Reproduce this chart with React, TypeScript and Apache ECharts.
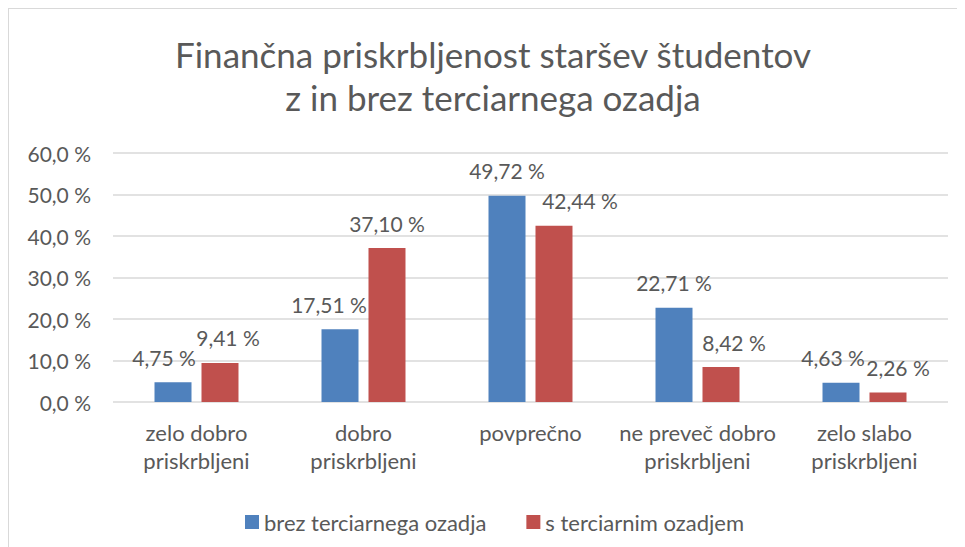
import React, { useEffect, useRef } from "react";
import * as echarts from "echarts";

const categories = [
  "zelo dobro\npriskrbljeni",
  "dobro\npriskrbljeni",
  "povprečno",
  "ne preveč dobro\npriskrbljeni",
  "zelo slabo\npriskrbljeni",
];
const seriesNames = ["brez terciarnega ozadja", "s terciarnim ozadjem"];
const brezValues = [4.75, 17.51, 49.72, 22.71, 4.63];
const sValues = [9.41, 37.1, 42.44, 8.42, 2.26];
const yTicks = [0, 10, 20, 30, 40, 50, 60];

// label horizontal nudges (style only)
const brezLabelDx = [-9, -11, 0, 0, -8];
const sLabelDx = [8, 0, 26, 13, 10];

const FONT = "Lato";
const TEXT = "#595959";

const fmt2 = (v: number) => v.toFixed(2).replace(".", ",") + " %";
const fmt1 = (v: number) => v.toFixed(1).replace(".", ",") + " %";

export default function App() {
  const ref = useRef<HTMLDivElement>(null);
  useEffect(() => {
    if (!ref.current) return;
    const chart = echarts.init(ref.current, undefined, { renderer: "svg" });
    const labelBase = {
      show: true,
      position: "top",
      distance: 15,
      color: TEXT,
      fontFamily: FONT,
      fontSize: 21,
      lineHeight: 20,
      formatter: (p: any) => fmt2(p.value),
    };
    chart.setOption({
      animation: false,
      backgroundColor: "#ffffff",
      title: {
        text: "Finančna priskrbljenost staršev študentov\nz in brez terciarnega ozadja",
        left: "center",
        top: 18,
        textStyle: {
          color: TEXT,
          fontFamily: FONT,
          fontSize: 35,
          fontWeight: "normal",
          lineHeight: 43,
        },
      },
      legend: {
        data: seriesNames,
        left: 231,
        top: 497,
        itemWidth: 14,
        itemHeight: 14,
        itemGap: 40,
        icon: "rect",
        textStyle: { color: TEXT, fontFamily: FONT, fontSize: 22, lineHeight: 20 },
      },
      grid: { left: 104, top: 144, width: 835, height: 249 },
      xAxis: {
        type: "category",
        data: categories,
        axisLine: { show: false },
        axisTick: { show: false },
        axisLabel: {
          color: TEXT,
          fontFamily: FONT,
          fontSize: 22,
          lineHeight: 28,
          margin: 16,
          interval: 0,
        },
      },
      yAxis: {
        type: "value",
        min: yTicks[0],
        max: yTicks[yTicks.length - 1],
        interval: 10,
        axisLine: { show: false },
        axisTick: { show: false },
        splitLine: { lineStyle: { color: "#d9d9d9", width: 1.5 } },
        axisLabel: {
          color: TEXT,
          fontFamily: FONT,
          fontSize: 21,
          margin: 22,
          formatter: (v: number) => fmt1(v),
        },
      },
      series: [
        {
          name: seriesNames[0],
          type: "bar",
          barWidth: 37,
          barGap: "27%",
          itemStyle: { color: "#4F81BD" },
          label: labelBase,
          data: brezValues.map((v, i) => ({ value: v, label: { offset: [brezLabelDx[i], 0] } })),
        },
        {
          name: seriesNames[1],
          type: "bar",
          barWidth: 37,
          barGap: "27%",
          itemStyle: { color: "#C0504D" },
          label: labelBase,
          data: sValues.map((v, i) => ({ value: v, label: { offset: [sLabelDx[i], 0] } })),
        },
      ],
    });
    return () => chart.dispose();
  }, []);
  return (
    <div
      style={{
        width: 957,
        height: 539,
        overflow: "hidden",
        borderLeft: "1px solid #d9d9d9",
        borderTop: "1px solid #d9d9d9",
        boxSizing: "border-box",
      }}
    >
      <div ref={ref} style={{ width: 968, height: 560 }} />
    </div>
  );
}
